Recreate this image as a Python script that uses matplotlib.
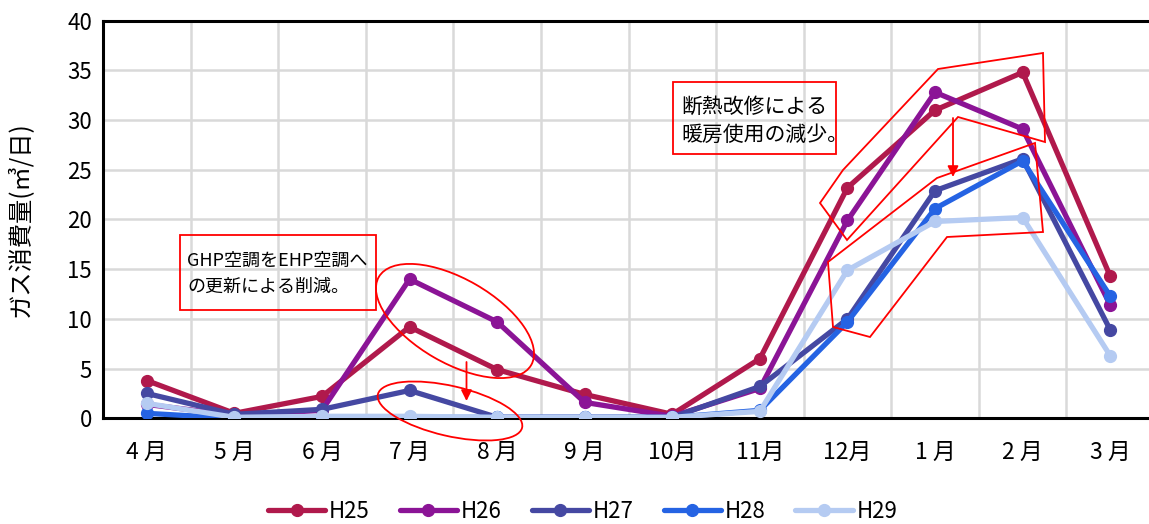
import numpy as np
import matplotlib.pyplot as plt
from matplotlib.patches import Ellipse, Polygon, Rectangle
from matplotlib.transforms import Affine2D

plt.rcParams['font.family'] = ['Noto Sans CJK JP', 'DejaVu Sans']

months = ['4 月', '5 月', '6 月', '7 月', '8 月', '9 月', '10月', '11月', '12月', '1 月', '2 月', '3 月']
years = ['H25', 'H26', 'H27', 'H28', 'H29']
h25 = [3.8, 0.5, 2.2, 9.2, 4.9, 2.4, 0.4, 6.0, 23.2, 31.0, 34.8, 14.3]
h26 = [1.4, 0.3, 0.8, 14.0, 9.7, 1.6, 0.2, 3.0, 19.9, 32.8, 29.1, 11.4]
h27 = [2.5, 0.4, 0.9, 2.8, 0.1, 0.1, 0.1, 3.2, 10.0, 22.9, 26.1, 8.9]
h28 = [0.5, 0.0, 0.1, 0.1, 0.1, 0.1, 0.1, 0.8, 9.7, 21.1, 25.9, 12.3]
h29 = [1.5, 0.1, 0.2, 0.2, 0.1, 0.1, 0.1, 0.7, 14.9, 19.8, 20.2, 6.3]
colors = ['#B0194C', '#8B1496', '#4548A2', '#2563E3', '#B5CBF2']

W, H = 1149, 524
fig = plt.figure(figsize=(W / 100, H / 100), dpi=100)
ax = fig.add_axes([103 / W, (H - 418.3) / H, (1154 - 103) / W, (418.3 - 20.7) / H])

x = np.arange(len(months))
for name, vals, c in zip(years, [h25, h26, h27, h28, h29], colors):
    ax.plot(x, vals, color=c, lw=3.8, marker='o', ms=8.5, label=name,
            solid_capstyle='round', zorder=3)

ax.set_xlim(-0.5, len(months) - 0.5)
ax.set_ylim(0, 40)
ax.set_yticks(np.arange(0, 41, 5))
ax.set_xticks(x)
ax.set_xticklabels(months)
ax.set_xticks(x[:-1] + 0.5, minor=True)
ax.tick_params(which='both', length=0)
ax.tick_params(axis='x', labelsize=16.5, pad=16)
ax.tick_params(axis='y', labelsize=16, pad=8)
ax.grid(True, which='major', axis='y', color='#d9d9d9', lw=1.8)
ax.grid(True, which='minor', axis='x', color='#d9d9d9', lw=1.8)
ax.set_axisbelow(True)
for s in ax.spines.values():
    s.set_color('black')
    s.set_linewidth(2.2)
ax.set_ylabel('ガス消費量(㎥/日)', fontsize=17.5)
ax.yaxis.set_label_coords(-0.066, 0.5)

fig.legend(loc='center', bbox_to_anchor=(0.507, 0.024), ncol=5, frameon=False,
           fontsize=16, handlelength=2.6, handletextpad=0.15, columnspacing=1.35)

# pixel coordinates, origin top-left
px = Affine2D().scale(1 / W, -1 / H).translate(0, 1) + fig.transFigure
red = '#FF0000'

fig.add_artist(Rectangle((179.5, 235), 196, 75, transform=px, fill=False,
                         ec=red, lw=1.3))
fig.text(187, 261, 'GHP空調をEHP空調へ', transform=px, fontsize=13,
         va='center', ha='left')
fig.text(187, 287, 'の更新による削減。', transform=px, fontsize=13,
         va='center', ha='left')

fig.add_artist(Rectangle((672.7, 82.3), 163.3, 71.7, transform=px, fill=False,
                         ec=red, lw=1.3))
fig.text(681, 106.5, '断熱改修による', transform=px, fontsize=15,
         va='center', ha='left')
fig.text(681, 135, '暖房使用の減少。', transform=px, fontsize=15,
         va='center', ha='left')

fig.add_artist(Ellipse((455, 321), 176, 84, angle=30, transform=px,
                       fill=False, ec=red, lw=1.3, zorder=5))
fig.add_artist(Ellipse((450, 411), 148, 50, angle=13, transform=px,
                       fill=False, ec=red, lw=1.3, zorder=5))

upper = [(820, 203), (843, 170), (938, 69), (1043, 53), (1045, 142), (958, 117), (847, 240)]
lower = [(828, 262), (833, 327), (870, 337), (947, 237), (1043, 232), (1035, 143), (937, 178)]
for pts in (upper, lower):
    fig.add_artist(Polygon(pts, closed=True, transform=px, fill=False,
                           ec=red, lw=1.3, zorder=5))

for x0, y0, y1 in [(466.5, 362, 401), (953, 118, 177)]:
    ax.annotate('', xy=(x0, y1), xycoords=px, xytext=(x0, y0), textcoords=px,
                arrowprops=dict(arrowstyle='-|>', color=red, lw=1.3,
                                mutation_scale=16, shrinkA=0, shrinkB=0))

fig.savefig('out.png', dpi=100)
